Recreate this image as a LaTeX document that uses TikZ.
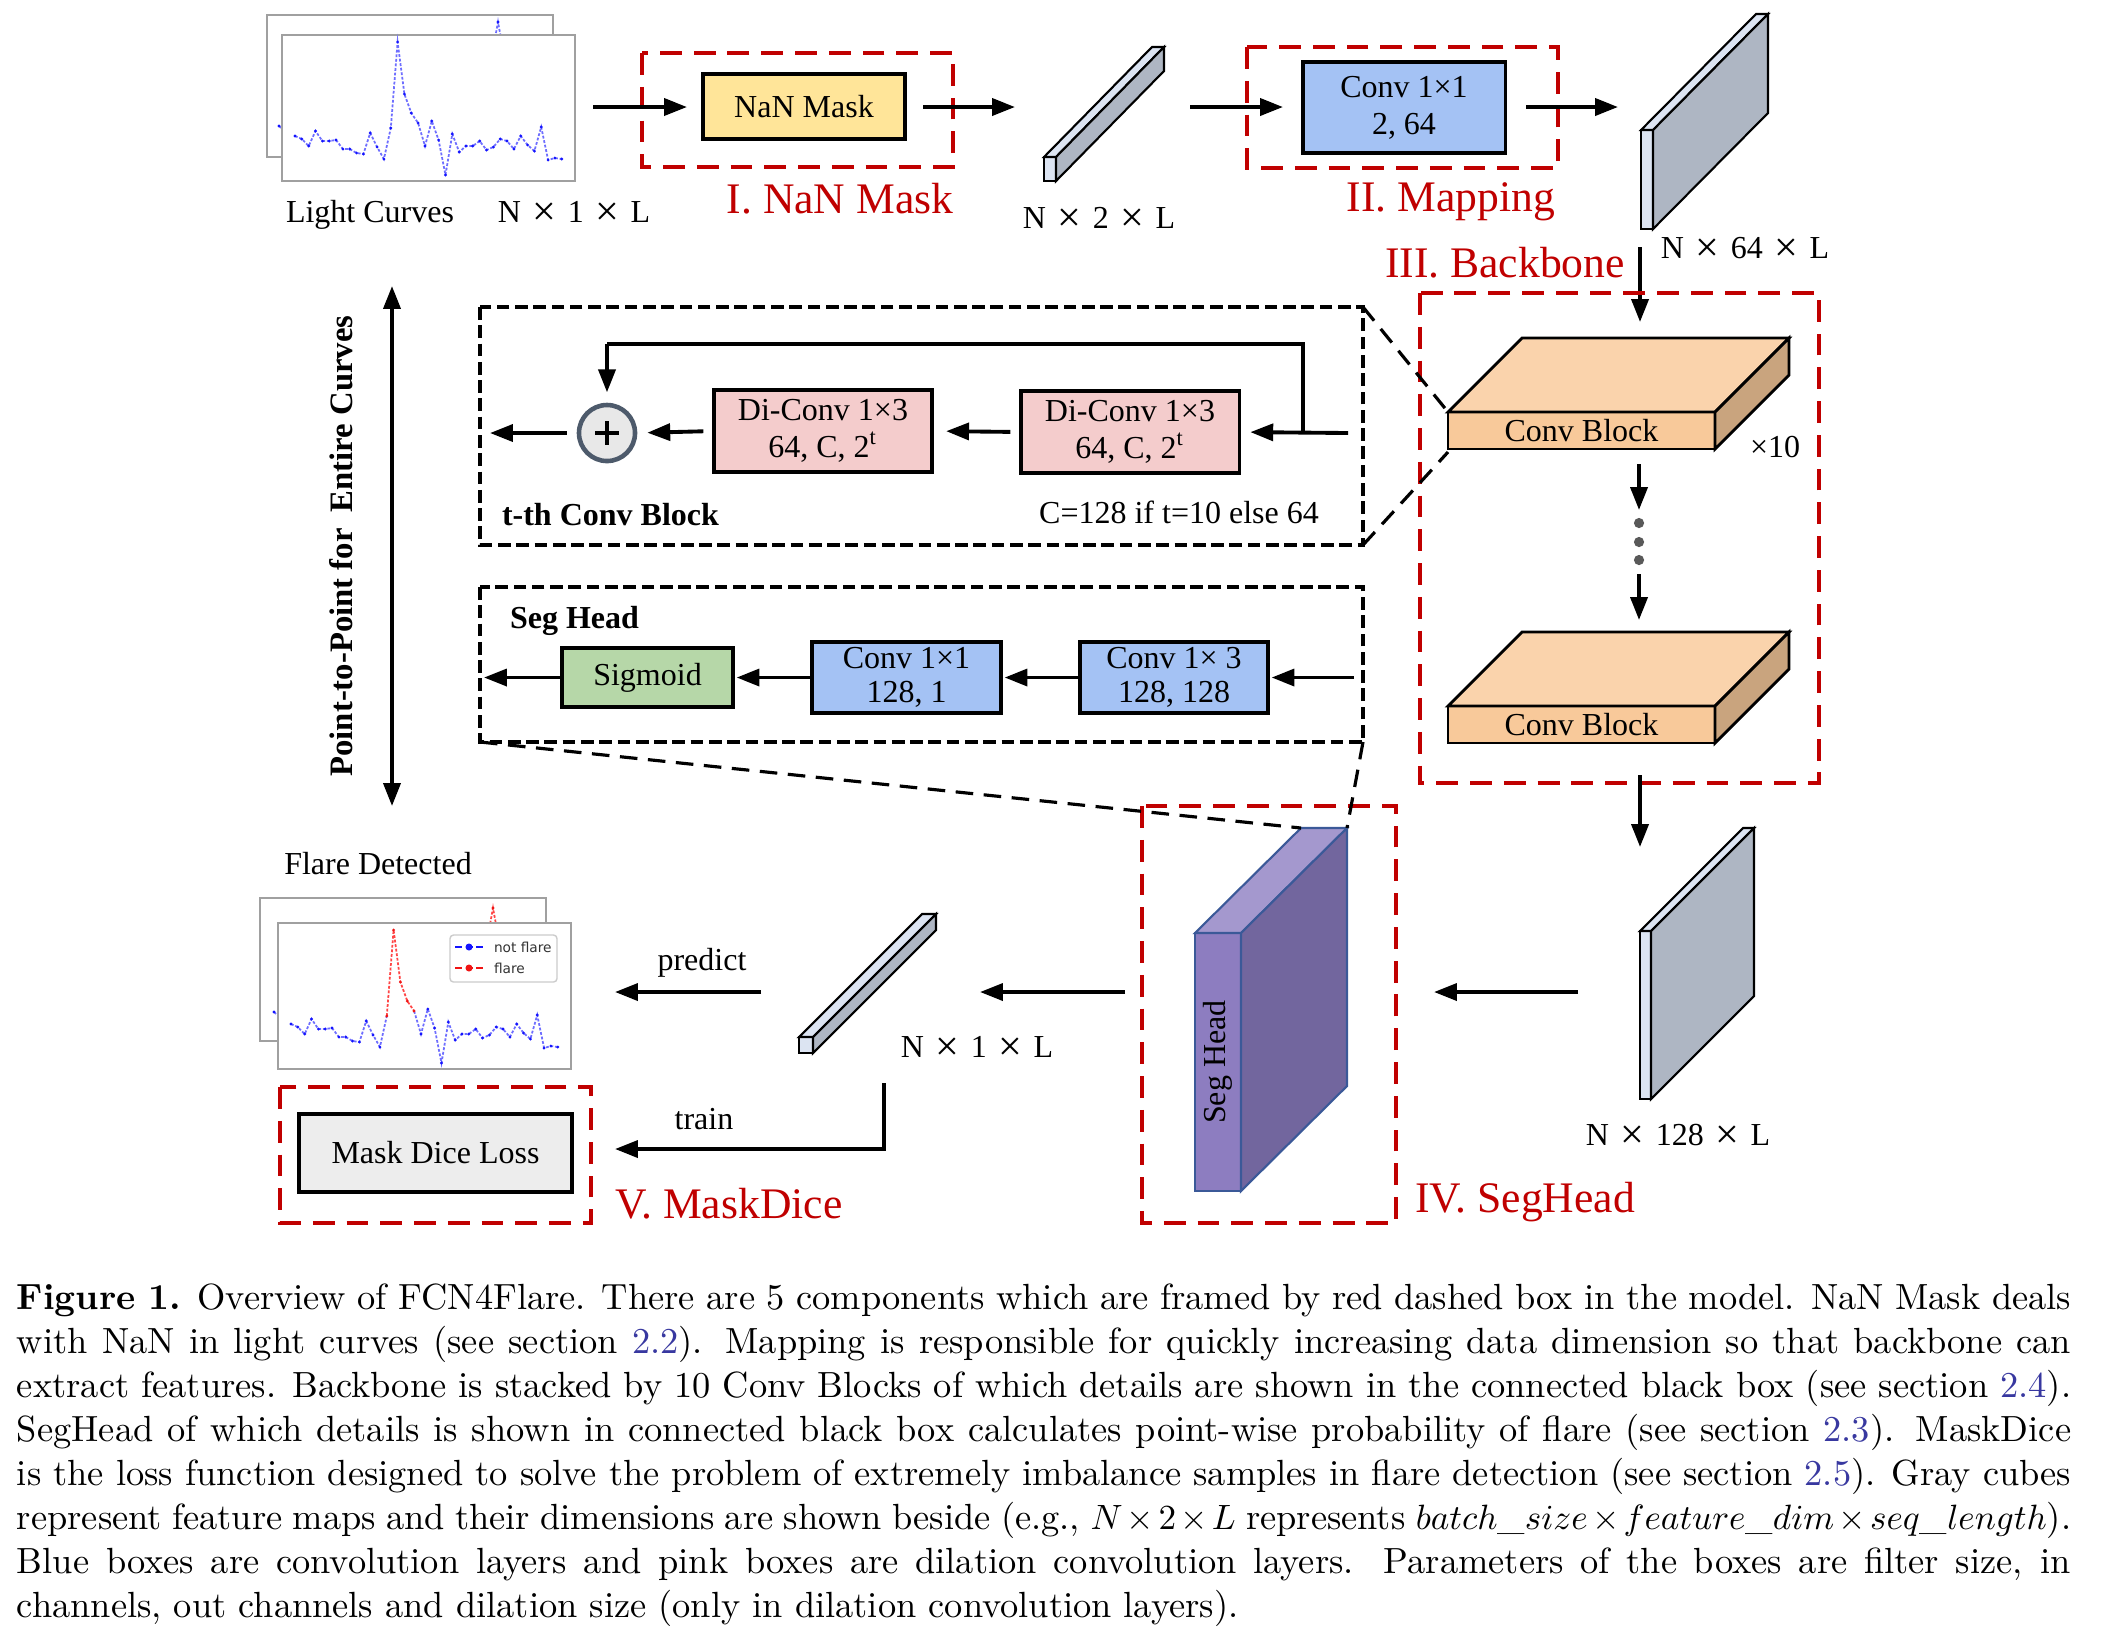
\documentclass[tikz,border=0pt]{standalone}
\usepackage{fontspec}
\newfontfamily\tms{Liberation Serif}
\newfontfamily\djv{DejaVu Sans}
\usetikzlibrary{arrows.meta}
\definecolor{redbox}{RGB}{192,0,0}
\definecolor{nanfill}{RGB}{255,229,153}
\definecolor{convblue}{RGB}{164,194,244}
\definecolor{dipink}{RGB}{244,204,204}
\definecolor{siggreen}{RGB}{182,215,168}
\definecolor{cbtop}{RGB}{250,211,172}
\definecolor{cbfront}{RGB}{248,201,154}
\definecolor{cbside}{RGB}{201,164,126}
\definecolor{pfront}{RGB}{141,125,192}
\definecolor{ptop}{RGB}{164,152,206}
\definecolor{pside}{RGB}{114,102,158}
\definecolor{pedge}{RGB}{59,89,152}
\definecolor{gfront}{RGB}{220,228,242}
\definecolor{gside}{RGB}{174,182,195}
\definecolor{linkblue}{RGB}{56,56,160}
\definecolor{ringgray}{RGB}{77,90,107}
\definecolor{curveblue}{RGB}{110,110,255}
\definecolor{dotblue}{RGB}{20,20,255}
\definecolor{curvered}{RGB}{255,70,70}
\definecolor{dotred}{RGB}{240,20,20}
\definecolor{panelgray}{RGB}{160,160,160}
\newcommand\dgfont{\tms\fontsize{9.1}{10.6}\selectfont}
\newcommand\rdfont{\tms\fontsize{12.4}{14}\selectfont}
\newcommand\bdfont{\tms\bfseries\fontsize{9.1}{10.6}\selectfont}
\newcommand\dimsp{\hspace{0.36em}}
\newcommand\dimx{\raisebox{-1.1pt}{\fontsize{12}{10}\selectfont ×}}
\newcommand\dimlab[1]{N\dimsp\dimx\dimsp #1\dimsp\dimx\dimsp L}
% cube: x y w h dx up front top side
\newcommand\mycube[9]{%
  \filldraw[fill=#7] (#1,#2) rectangle (#1+#3,#2+#4);
  \filldraw[fill=#8] (#1,#2) -- (#1+#5,#2-#6) -- (#1+#3+#5,#2-#6) -- (#1+#3,#2) -- cycle;
  \filldraw[fill=#9] (#1+#3,#2) -- (#1+#3+#5,#2-#6) -- (#1+#3+#5,#2+#4-#6) -- (#1+#3,#2+#4) -- cycle;
}
\begin{document}
\begin{tikzpicture}[x=0.01cm,y=-0.01cm,
  every node/.style={inner sep=0pt,outer sep=0pt},
  arr/.style={line width=1.1pt,-{Triangle[length=6.5pt,width=4.8pt]}},
  darr/.style={line width=1.1pt,{Triangle[length=6.5pt,width=4.8pt]}-{Triangle[length=6.5pt,width=4.8pt]}},
  redframe/.style={draw=redbox,line width=1.3pt,dash pattern=on 6.2pt off 3.4pt},
  blkframe/.style={draw=black,line width=0.9pt,dash pattern=on 3.6pt off 1.6pt},
  linkdash/.style={draw=black,line width=0.9pt,dash pattern=on 5pt off 3pt},
  layer/.style={draw=black,line width=0.9pt,font=\dgfont,align=center},
  dg/.style={font=\dgfont},
  rd/.style={font=\rdfont,text=redbox},
  bd/.style={font=\bdfont},
  panel/.style={draw=panelgray,fill=white,line width=0.4pt},
  bcurve/.style={draw=curveblue,line width=0.5pt,dash pattern=on 0.8pt off 0.5pt},
  rcurve/.style={draw=curvered,line width=0.5pt,dash pattern=on 0.8pt off 0.5pt},
  capline/.style={anchor=base west,font=\fontsize{10.35}{12.5}\selectfont}
]
\fill[white] (0,0) rectangle (2113,1644);
\useasboundingbox (0,0) rectangle (2113,1644);

% ---------- light curves (input) ----------
\draw[panel] (267,15) rectangle (553,157);
\draw[bcurve] (279,126) -- (286,132);
\draw[bcurve] (491,60) -- (498,22) -- (505,60);
\fill[dotblue] (279,126) circle[radius=0.45pt] (498,22) circle[radius=0.45pt];
\draw[panel] (282,35) rectangle (575,181);
\coordinate (lcfront) at (575,107);
\draw[bcurve] plot coordinates {(295.0,136) (301.8,139) (308.7,146) (315.5,131) (322.4,141) (329.2,141) (336.0,140) (342.9,149) (349.7,149) (356.6,153) (363.4,154) (370.2,133) (377.1,147) (383.9,159) (390.8,128) (397.6,42) (404.4,94) (411.3,113) (418.1,123) (425.0,146) (431.8,121) (438.6,140) (445.5,175) (452.3,134) (459.2,152) (466.0,146) (472.8,146) (479.7,141) (486.5,150) (493.4,147) (500.2,139) (507.0,141) (513.9,149) (520.7,136) (527.6,145) (534.4,151) (541.2,127) (548.1,160) (554.9,158) (561.8,159)};
\foreach \p in {(295.0,136), (301.8,139), (308.7,146), (315.5,131), (322.4,141), (329.2,141), (336.0,140), (342.9,149), (349.7,149), (356.6,153), (363.4,154), (370.2,133), (377.1,147), (383.9,159), (390.8,128), (397.6,42), (404.4,94), (411.3,113), (418.1,123), (425.0,146), (431.8,121), (438.6,140), (445.5,175), (452.3,134), (459.2,152), (466.0,146), (472.8,146), (479.7,141), (486.5,150), (493.4,147), (500.2,139), (507.0,141), (513.9,149), (520.7,136), (527.6,145), (534.4,151), (541.2,127), (548.1,160), (554.9,158), (561.8,159)}
  \fill[dotblue] \p circle[radius=0.45pt];
\node[dg,anchor=base] (lclab) at (370,222) {Light Curves};
\node[dg,anchor=base] (dim1) at (574,222) {\dimlab{1}};

% ---------- I. NaN Mask ----------
\draw[redframe] (642,53) rectangle (953,167);
\node[layer,fill=nanfill,minimum width=2.02cm,minimum height=0.65cm] (nan) at (804,106.5) {NaN Mask};
\node[rd,anchor=base] (lab1) at (840,213) {I. NaN Mask};
\coordinate (a1s) at (593,107);
\coordinate (a1e) at (687,107);
\draw[arr] (a1s) -- (a1e);
\coordinate (a2s) at (923,107);
\coordinate (a2e) at (1015,107);
\draw[arr] (a2s) -- (a2e);

% ---------- N x 2 x L ----------
\begin{scope}[line width=0.6pt]
\mycube{1044}{157}{12}{24}{108}{110}{gfront}{gfront}{gside}
\end{scope}
\coordinate (bar2) at (1100,100);
\node[dg,anchor=base] (dim2) at (1099,228) {\dimlab{2}};
\coordinate (a3s) at (1190,107);
\coordinate (a3e) at (1283,107);
\draw[arr] (a3s) -- (a3e);

% ---------- II. Mapping ----------
\draw[redframe] (1247,47) rectangle (1558,168);
\node[layer,fill=convblue,minimum width=2.02cm,minimum height=0.91cm] (map) at (1404,107.5) {Conv 1×1\\2, 64};
\node[rd,anchor=base] (lab2) at (1451,211) {II. Mapping};
\coordinate (a4s) at (1526,107);
\coordinate (a4e) at (1618,107);
\draw[arr] (a4s) -- (a4e);

% ---------- N x 64 x L ----------
\begin{scope}[line width=0.6pt]
\mycube{1641}{130}{12}{99}{115}{116}{gfront}{gfront}{gside}
\end{scope}
\node[dg,anchor=base] (dim64) at (1745,258) {\dimlab{64}};
\node[rd,anchor=base] (lab3) at (1505,277) {III. Backbone};
\coordinate (a5s) at (1640,247);
\coordinate (a5e) at (1640,322);
\draw[arr] (a5s) -- (a5e);

% ---------- III. Backbone ----------
\draw[redframe] (1420,293) rectangle (1819,783);
\begin{scope}[line width=0.8pt]
\mycube{1448}{412}{267}{37}{74}{74}{cbfront}{cbtop}{cbside}
\mycube{1448}{706}{267}{37}{74}{74}{cbfront}{cbtop}{cbside}
\end{scope}
\node[dg] (cb1) at (1581.5,431) {Conv Block};
\node[dg] (cb2) at (1581.5,725) {Conv Block};
\node[dg,anchor=base] (x10) at (1775,457) {×10};
\coordinate (a6s) at (1639,464);
\coordinate (a6e) at (1639,510);
\draw[arr] (a6s) -- (a6e);
\foreach \yy/\nm in {523/d1,542/d2,560/d3}
  \fill[black!65] (1639,\yy) circle[radius=1.45pt] coordinate (\nm);
\coordinate (a7s) at (1639,574);
\coordinate (a7e) at (1639,620);
\draw[arr] (a7s) -- (a7e);
\coordinate (a8s) at (1640,775);
\coordinate (a8e) at (1640,847);
\draw[arr] (a8s) -- (a8e);

% ---------- t-th Conv Block detail ----------
\draw[blkframe] (480,307) rectangle (1363,545);
\node[layer,fill=dipink,minimum width=2.18cm,minimum height=0.82cm] (di1) at (823,431) {Di-Conv 1×3\\64, C, 2\textsuperscript{t}};
\node[layer,fill=dipink,minimum width=2.18cm,minimum height=0.82cm] (di2) at (1130,432) {Di-Conv 1×3\\64, C, 2\textsuperscript{t}};
\node[circle,draw=ringgray,fill=black!9,line width=1.3pt,minimum size=0.56cm] (plus) at (607,433) {};
\draw[line width=1.3pt] (595,433) -- (619,433) (607,421) -- (607,445);
\coordinate (cin) at (1348,433);
\coordinate (cjoin) at (1303,433);
\coordinate (cup) at (1303,344);
\coordinate (cleft) at (607,344);
\coordinate (cout) at (490,433);
\draw[arr,shorten >=3.2pt] (cin) -- (di2.east);
\draw[line width=1.1pt] (cjoin) -- (cup) -- (cleft);
\draw[arr,shorten >=3.6pt] (cleft) -- (plus.north);
\draw[arr,shorten <=3pt,shorten >=4pt] (di2.west) -- (di1.east);
\draw[arr,shorten <=3pt,shorten >=3.5pt] (di1.west) -- (plus.east);
\draw[arr,shorten <=3.5pt] (plus.west) -- (cout);
\node[bd,anchor=base west] (tth) at (502,525) {t-th Conv Block};
\node[dg,anchor=base] (cnote) at (1179,523) {C=128 if t=10 else 64};
\coordinate (cbtl) at (1448,412);
\coordinate (cbbl) at (1448,452);
\draw[linkdash] (1363,307) -- (cbtl);
\draw[linkdash] (1363,545) -- (cbbl);

% ---------- Seg Head detail ----------
\draw[blkframe] (480,587) rectangle (1363,742);
\node[bd,anchor=base west] (sh) at (510,628) {Seg Head};
\node[layer,fill=siggreen,minimum width=1.71cm,minimum height=0.59cm] (sig) at (647.5,677.5) {Sigmoid};
\node[layer,fill=convblue,minimum width=1.89cm,minimum height=0.71cm,font=\tms\fontsize{9.1}{9.6}\selectfont] (c11) at (906.5,677.5) {Conv 1×1\\128, 1};
\node[layer,fill=convblue,minimum width=1.88cm,minimum height=0.71cm,font=\tms\fontsize{9.1}{9.6}\selectfont] (c13) at (1174,677.5) {Conv 1× 3\\128, 128};
\coordinate (sin) at (1354,677.5);
\coordinate (sout) at (484,677.5);
\draw[arr,shorten >=1pt] (sin) -- (c13.east);
\draw[arr,shorten >=1pt] (c13.west) -- (c11.east);
\draw[arr,shorten >=1pt] (c11.west) -- (sig.east);
\draw[arr] (sig.west) -- (sout);

% ---------- IV. SegHead ----------
\draw[redframe] (1142,806) rectangle (1396,1223);
\begin{scope}[draw=pedge,line width=0.6pt]
\mycube{1195}{933}{46}{258}{106}{105}{pfront}{ptop}{pside}
\end{scope}
\coordinate (shbl) at (1301,828);
\coordinate (shbr) at (1347,828);
\draw[linkdash] (480,742) -- (shbl);
\draw[linkdash] (1363,742) -- (shbr);
\node[dg,rotate=90] (shtext) at (1218,1062) {Seg Head};
\node[rd,anchor=base] (lab4) at (1525,1212) {IV. SegHead};

% ---------- N x 128 x L ----------
\begin{scope}[line width=0.6pt]
\mycube{1640}{931}{11}{168}{103}{103}{gfront}{gfront}{gside}
\end{scope}
\node[dg,anchor=base] (dim128) at (1678,1145) {\dimlab{128}};
\coordinate (a9s) at (1578,992);
\coordinate (a9e) at (1434,992);
\draw[arr] (a9s) -- (a9e);
\coordinate (a10s) at (1125,992);
\coordinate (a10e) at (980,992);
\draw[arr] (a10s) -- (a10e);

% ---------- N x 1 x L output ----------
\begin{scope}[line width=0.6pt]
\mycube{799}{1037}{14}{16}{123}{123}{gfront}{gfront}{gside}
\end{scope}
\node[dg,anchor=base] (dim1b) at (977,1057) {\dimlab{1}};
\coordinate (a11s) at (761,992);
\coordinate (a11e) at (615,992);
\draw[arr] (a11s) -- (a11e);
\node[dg,anchor=base] (pred) at (702,970) {predict};
\coordinate (trs) at (884,1083);
\coordinate (trc) at (884,1149);
\coordinate (tre) at (615,1149);
\draw[arr] (trs) -- (trc) -- (tre);
\node[dg,anchor=base] (train) at (704,1129) {train};

% ---------- Flare detected ----------
\node[dg,anchor=base] (fd) at (378,874) {Flare Detected};
\draw[panel] (260,898) rectangle (546,1041);
\draw[bcurve] (274,1012) -- (281,1018);
\draw[rcurve] (486,946) -- (493,908) -- (500,946);
\fill[dotblue] (274,1012) circle[radius=0.45pt];
\fill[dotred] (493,908) circle[radius=0.45pt];
\draw[panel] (278,923) rectangle (571,1069);
\begin{scope}[shift={(-4,888)}]
\draw[bcurve] plot coordinates {(295.0,136) (301.8,139) (308.7,146) (315.5,131) (322.4,141) (329.2,141) (336.0,140) (342.9,149) (349.7,149) (356.6,153) (363.4,154) (370.2,133) (377.1,147) (383.9,159) (390.8,128)};
\draw[rcurve] plot coordinates {(390.8,128) (397.6,42) (404.4,94) (411.3,113) (418.1,123)};
\draw[bcurve] plot coordinates {(418.1,123) (425.0,146) (431.8,121) (438.6,140) (445.5,175) (452.3,134) (459.2,152) (466.0,146) (472.8,146) (479.7,141) (486.5,150) (493.4,147) (500.2,139) (507.0,141) (513.9,149) (520.7,136) (527.6,145) (534.4,151) (541.2,127) (548.1,160) (554.9,158) (561.8,159)};
\foreach \p in {(295.0,136), (301.8,139), (308.7,146), (315.5,131), (322.4,141), (329.2,141), (336.0,140), (342.9,149), (349.7,149), (356.6,153), (363.4,154), (370.2,133), (377.1,147), (383.9,159), (425.0,146), (431.8,121), (438.6,140), (445.5,175), (452.3,134), (459.2,152), (466.0,146), (472.8,146), (479.7,141), (486.5,150), (493.4,147), (500.2,139), (507.0,141), (513.9,149), (520.7,136), (527.6,145), (534.4,151), (541.2,127), (548.1,160), (554.9,158), (561.8,159)}
  \fill[dotblue] \p circle[radius=0.45pt];
\foreach \p in {(390.8,128), (397.6,42), (404.4,94), (411.3,113), (418.1,123)}
  \fill[dotred] \p circle[radius=0.45pt];
\end{scope}
% legend
\draw[draw=black!20,fill=white,line width=0.4pt,rounded corners=1pt] (450,935) rectangle (557,982);
\draw[draw=dotblue,line width=0.6pt,dash pattern=on 2pt off 1pt] (455,947) -- (483,947);
\fill[dotblue] (469,947) circle[radius=1pt];
\draw[draw=dotred,line width=0.6pt,dash pattern=on 2pt off 1pt] (455,968) -- (483,968);
\fill[dotred] (469,968) circle[radius=1pt];
\node[anchor=west,font=\djv\fontsize{3.9}{4.5}\selectfont,text=black!80] (lg1) at (494,947) {not flare};
\node[anchor=west,font=\djv\fontsize{3.9}{4.5}\selectfont,text=black!80] (lg2) at (494,968) {flare};

% ---------- V. MaskDice ----------
\draw[redframe] (280,1087) rectangle (591,1223);
\node[layer,fill=black!7,line width=1.1pt,minimum width=2.73cm,minimum height=0.78cm] (mdl) at (435.5,1153) {Mask Dice Loss};
\node[rd,anchor=base] (lab5) at (729,1218) {V. MaskDice};

% ---------- vertical arrow ----------
\coordinate (vtop) at (392,286);
\coordinate (vbot) at (392,806);
\draw[darr] (vbot) -- (vtop);
\node[rotate=90,font=\tms\bfseries\fontsize{9.3}{11}\selectfont] (p2p) at (341,546) {Point-to-Point for\ \ Entire Curves};

% ---------- caption ----------
\node[capline] (cap1) at (17,1309) {\makebox[20.53cm][s]{\textbf{Figure 1.} Overview of FCN4Flare. There are 5 components which are framed by red dashed box in the model. NaN Mask deals}};
\node[capline] (cap2) at (17,1353) {\makebox[20.53cm][s]{with NaN in light curves (see section \textcolor{linkblue}{2.2}). Mapping is responsible for quickly increasing data dimension so that backbone can}};
\node[capline] (cap3) at (17,1397) {\makebox[20.53cm][s]{extract features. Backbone is stacked by 10 Conv Blocks of which details are shown in the connected black box (see section \textcolor{linkblue}{2.4}).}};
\node[capline] (cap4) at (17,1441) {\makebox[20.53cm][s]{SegHead of which details is shown in connected black box calculates point-wise probability of flare (see section \textcolor{linkblue}{2.3}). MaskDice}};
\node[capline] (cap5) at (17,1485) {\makebox[20.53cm][s]{is the loss function designed to solve the problem of extremely imbalance samples in flare detection (see section \textcolor{linkblue}{2.5}). Gray cubes}};
\node[capline] (cap6) at (17,1529) {\makebox[20.53cm][s]{represent feature maps and their dimensions are shown beside (e.g., $N\times2\times L$ represents $batch\_size\times feature\_dim\times seq\_length$).}};
\node[capline] (cap7) at (17,1573) {\makebox[20.53cm][s]{Blue boxes are convolution layers and pink boxes are dilation convolution layers. Parameters of the boxes are filter size, in}};
\node[capline] (cap8) at (17,1617) {channels, out channels and dilation size (only in dilation convolution layers).};
\end{tikzpicture}
\end{document}
